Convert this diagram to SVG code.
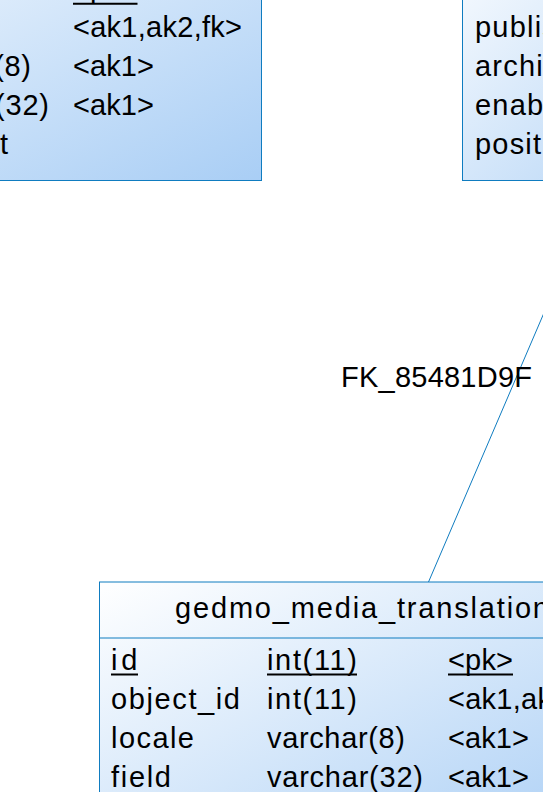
<svg xmlns="http://www.w3.org/2000/svg" width="543" height="792" viewBox="0 0 543 792">
<defs>
<linearGradient id="tblFill" x1="0" y1="0" x2="1" y2="1">
<stop offset="0" stop-color="#FFFFFF"/>
<stop offset="1" stop-color="#A9CEF5"/>
</linearGradient>
<style>
.box{fill:url(#tblFill);stroke:#0F7CC0;stroke-width:1}
.sep{stroke:#0F7CC0;stroke-width:1}
.t{font-family:"Liberation Sans",Arial,sans-serif;font-size:29px;fill:#000}
.ls{letter-spacing:1.2px}
.ul{stroke:#000;stroke-width:2}
.conn{stroke:#0F7CC0;stroke-width:1;fill:none}
</style>
</defs>
<rect width="543" height="792" fill="#FFFFFF"/>

<g id="connectors">
<line class="conn" x1="601" y1="180" x2="428.5" y2="582"/>
<text class="t" x="341" y="387" textLength="191" lengthAdjust="spacing">FK_85481D9F</text>
</g>

<g id="table_translation_top">
<rect class="box" x="-276.5" y="-90.5" width="538" height="271"/>
<text class="t" x="73" y="-2" textLength="65" lengthAdjust="spacing">&lt;pk&gt;</text>
<line class="ul" x1="73" y1="3.7" x2="137.5" y2="3.7"/>
<text class="t" x="73" y="37" textLength="169" lengthAdjust="spacing">&lt;ak1,ak2,fk&gt;</text>
<text class="t" x="-107" y="76" textLength="138" lengthAdjust="spacing">varchar(8)</text>
<text class="t" x="73" y="76" textLength="81" lengthAdjust="spacing">&lt;ak1&gt;</text>
<text class="t" x="-107" y="115" textLength="156" lengthAdjust="spacing">varchar(32)</text>
<text class="t" x="73" y="115" textLength="81" lengthAdjust="spacing">&lt;ak1&gt;</text>
<text class="t" x="-107" y="154" textLength="115" lengthAdjust="spacing">longtext</text>
</g>

<g id="table_media">
<rect class="box" x="462.5" y="-90.5" width="300" height="271"/>
<text class="t ls" x="475" y="37">published</text>
<text class="t ls" x="475" y="76">archived</text>
<text class="t ls" x="475" y="115">enabled</text>
<text class="t ls" x="475" y="154">position</text>
</g>

<g id="table_gedmo_media_translation">
<rect class="box" x="99.5" y="582" width="528" height="262"/>
<line class="sep" x1="99.5" y1="638" x2="627.5" y2="638"/>
<text class="t" x="175" y="618" textLength="374" lengthAdjust="spacing">gedmo_media_translation</text>
<text class="t" x="111" y="670" textLength="26.5" lengthAdjust="spacing">id</text>
<line class="ul" x1="111" y1="674.5" x2="138" y2="674.5"/>
<text class="t" x="267" y="670" textLength="90" lengthAdjust="spacing">int(11)</text>
<line class="ul" x1="267" y1="674.5" x2="357" y2="674.5"/>
<text class="t" x="448" y="670" textLength="65" lengthAdjust="spacing">&lt;pk&gt;</text>
<line class="ul" x1="448" y1="674.5" x2="513" y2="674.5"/>
<text class="t" x="111" y="709" textLength="129" lengthAdjust="spacing">object_id</text>
<text class="t" x="267" y="709" textLength="90" lengthAdjust="spacing">int(11)</text>
<text class="t" x="448" y="709" textLength="169" lengthAdjust="spacing">&lt;ak1,ak2,fk&gt;</text>
<text class="t" x="111" y="748" textLength="83" lengthAdjust="spacing">locale</text>
<text class="t" x="267" y="748" textLength="138" lengthAdjust="spacing">varchar(8)</text>
<text class="t" x="448" y="748" textLength="81" lengthAdjust="spacing">&lt;ak1&gt;</text>
<text class="t" x="111" y="787" textLength="60" lengthAdjust="spacing">field</text>
<text class="t" x="267" y="787" textLength="156" lengthAdjust="spacing">varchar(32)</text>
<text class="t" x="448" y="787" textLength="81" lengthAdjust="spacing">&lt;ak1&gt;</text>
</g>
</svg>
